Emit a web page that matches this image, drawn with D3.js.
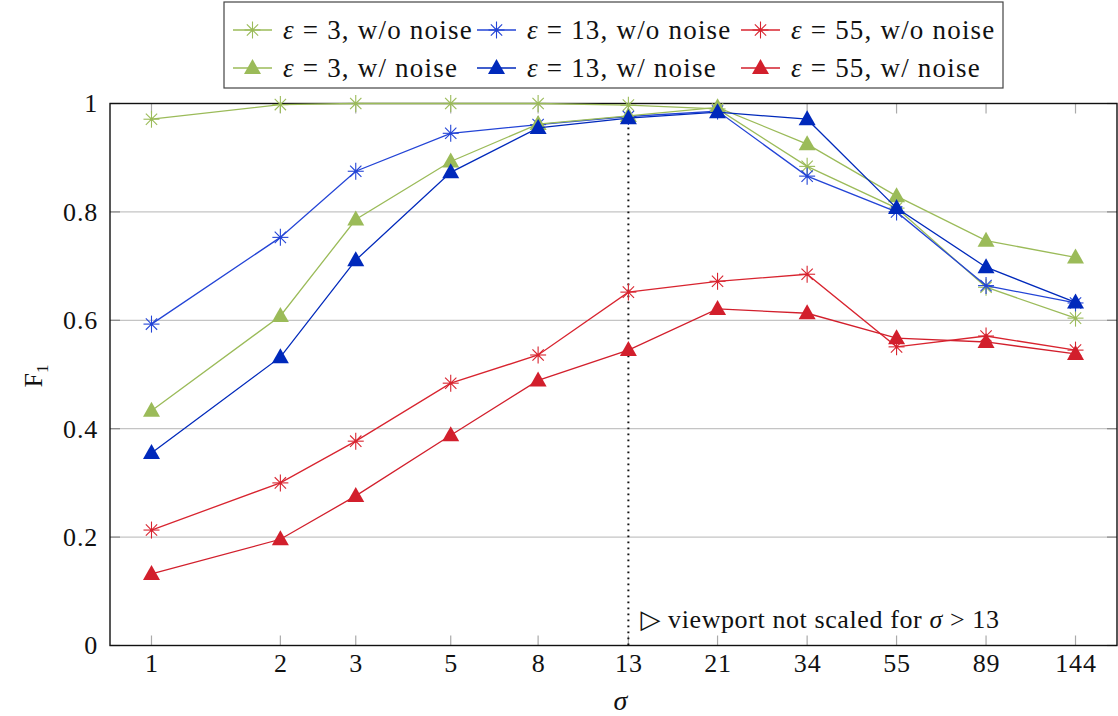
<!DOCTYPE html>
<html>
<head>
<meta charset="utf-8">
<script src="https://cdn.jsdelivr.net/npm/d3@7"></script>
<style>
  body { margin: 0; background: #fff; }
  text { font-family: "Liberation Serif", "DejaVu Serif", serif; fill: #111; }
</style>
</head>
<body>
<script>
//chart data
var sigmas = [1, 2, 3, 5, 8, 13, 21, 34, 55, 89, 144];
var yTicks = [0, 0.2, 0.4, 0.6, 0.8, 1];

var eps3NoNoise  = [0.971, 0.998, 1.0, 1.0, 1.0, 0.997, 0.990, 0.884, 0.807, 0.661, 0.604];
var eps13NoNoise = [0.593, 0.753, 0.875, 0.945, 0.961, 0.976, 0.986, 0.866, 0.800, 0.664, 0.632];
var eps55NoNoise = [0.213, 0.300, 0.377, 0.484, 0.536, 0.652, 0.672, 0.685, 0.551, 0.571, 0.545];
var eps3Noise    = [0.433, 0.608, 0.786, 0.893, 0.962, 0.977, 0.993, 0.925, 0.829, 0.747, 0.716];
var eps13Noise   = [0.355, 0.532, 0.711, 0.873, 0.955, 0.973, 0.984, 0.971, 0.807, 0.698, 0.633];
var eps55Noise   = [0.132, 0.196, 0.276, 0.388, 0.489, 0.545, 0.621, 0.613, 0.567, 0.560, 0.538];

var series = [
  {eps: "3",  label: ", w/o noise", values: eps3NoNoise,  color: "#9bbb59", mark: "asterisk"},
  {eps: "13", label: ", w/o noise", values: eps13NoNoise, color: "#2344d6", mark: "asterisk"},
  {eps: "55", label: ", w/o noise", values: eps55NoNoise, color: "#d8242f", mark: "asterisk"},
  {eps: "3",  label: ", w/ noise",  values: eps3Noise,    color: "#9bbb59", mark: "triangle"},
  {eps: "13", label: ", w/ noise",  values: eps13Noise,   color: "#0029bb", mark: "triangle"},
  {eps: "55", label: ", w/ noise",  values: eps55Noise,   color: "#d21f2c", mark: "triangle"}
];

var width = 1118,
    height = 716;

var svg = d3.select("body")
    .append("svg")
    .attr("width", width)
    .attr("height", height);

//plot frame
var plotLeft = 110, plotRight = 1117, plotTop = 103.5, plotBottom = 645.5;

var x = d3.scaleLog()
    .domain([0.8, 180])
    .range([plotLeft, plotRight]);

var y = d3.scaleLinear()
    .domain([0, 1])
    .range([plotBottom, plotTop]);

//grid lines
svg.selectAll(".grid")
    .data(yTicks.filter(function(d){ return d > 0 && d < 1; }))
    .enter()
    .append("line")
    .attr("x1", plotLeft).attr("x2", plotRight)
    .attr("y1", function(d){ return y(d); })
    .attr("y2", function(d){ return y(d); })
    .style("stroke", "#c4c4c4")
    .style("stroke-width", 1.2);

//x ticks, inside at bottom and top
sigmas.forEach(function(s){
  svg.append("line")
    .attr("x1", x(s)).attr("x2", x(s))
    .attr("y1", plotBottom).attr("y2", plotBottom - 10)
    .style("stroke", "#aaa").style("stroke-width", 1.2);
  svg.append("line")
    .attr("x1", x(s)).attr("x2", x(s))
    .attr("y1", plotTop).attr("y2", plotTop + 10)
    .style("stroke", "#aaa").style("stroke-width", 1.2);
});

//y ticks, inside at left and right
yTicks.forEach(function(t){
  svg.append("line")
    .attr("x1", plotLeft).attr("x2", plotLeft + 10)
    .attr("y1", y(t)).attr("y2", y(t))
    .style("stroke", "#888").style("stroke-width", 1.2);
  svg.append("line")
    .attr("x1", plotRight - 10).attr("x2", plotRight)
    .attr("y1", y(t)).attr("y2", y(t))
    .style("stroke", "#888").style("stroke-width", 1.2);
});

//axis labels via d3 axes, no domain path
var xAxis = svg.append("g")
    .attr("transform", "translate(0," + plotBottom + ")")
    .call(d3.axisBottom(x).tickValues(sigmas).tickFormat(d3.format("d")).tickSize(0).tickPadding(8));
var yAxis = svg.append("g")
    .attr("transform", "translate(" + plotLeft + ",0)")
    .call(d3.axisLeft(y).tickValues(yTicks).tickFormat(function(d){ return d === 0 || d === 1 ? d : d3.format(".1f")(d); }).tickSize(0).tickPadding(12));
[xAxis, yAxis].forEach(function(g){
  g.select(".domain").remove();
  g.selectAll("text")
    .style("font-family", "'Liberation Serif', serif")
    .style("font-size", "26px")
    .style("letter-spacing", "0.8px")
    .style("fill", "#111");
});

//dotted marker line at sigma = 13
svg.append("line")
  .attr("x1", x(13)).attr("x2", x(13))
  .attr("y1", plotTop).attr("y2", plotBottom)
  .style("stroke", "#111")
  .style("stroke-width", 2)
  .style("stroke-dasharray", "1.8,4.2");

svg.append("text")
  .attr("x", x(13) + 12)
  .attr("y", 628)
  .style("font-size", "26px")
  .style("letter-spacing", "0.6px")
  .html("▷ viewport not scaled for <tspan font-style='italic'>σ</tspan> &gt; 13");

//frame
svg.append("rect")
  .attr("x", plotLeft).attr("y", plotTop)
  .attr("width", plotRight - plotLeft).attr("height", plotBottom - plotTop)
  .style("fill", "none")
  .style("stroke", "#111")
  .style("stroke-width", 1.4);

//markers
function drawMark(g, kind, color){
  if (kind === "asterisk"){
    var r = 8;
    for (var i = 0; i < 8; i++){
      var a = i * Math.PI / 4;
      var rr = (i % 4 === 2) ? r + 0.5 : r;
      g.append("line")
        .attr("x1", 0).attr("y1", 0)
        .attr("x2", rr * Math.cos(a)).attr("y2", rr * Math.sin(a))
        .style("stroke", color)
        .style("stroke-width", 1.1);
    }
    g.append("circle").attr("r", 1.6).style("fill", color);
  } else {
    g.append("path")
      .attr("d", "M0,-9 L8.5,6 L-8.5,6 Z")
      .style("fill", color);
  }
}

var line = d3.line()
    .x(function(d){ return x(d[0]); })
    .y(function(d){ return y(d[1]); });

series.forEach(function(s){
  var pts = sigmas.map(function(sg, i){ return [sg, s.values[i]]; });
  svg.append("path")
    .datum(pts)
    .attr("d", line)
    .style("fill", "none")
    .style("stroke", s.color)
    .style("stroke-width", 1.3);
  pts.forEach(function(p){
    var g = svg.append("g").attr("transform", "translate(" + x(p[0]) + "," + y(p[1]) + ")");
    drawMark(g, s.mark, s.color);
  });
});

//axis titles
svg.append("text")
  .attr("x", x(13) - 15)
  .attr("y", 710)
  .style("font-size", "28px")
  .style("font-style", "italic")
  .text("σ");

svg.append("text")
  .attr("transform", "translate(42,376) rotate(-90)")
  .attr("text-anchor", "middle")
  .style("font-size", "26px")
  .html("F<tspan font-size='17px' dy='6'>1</tspan>");

//legend
var legend = svg.append("g");
legend.append("rect")
  .attr("x", 224).attr("y", 2)
  .attr("width", 779).attr("height", 86)
  .style("fill", "#fff")
  .style("stroke", "#444")
  .style("stroke-width", 1.2);

var legendCols = [233, 477, 741];
var legendRows = [30, 68];
series.forEach(function(s, i){
  var cx = legendCols[i % 3], cy = legendRows[Math.floor(i / 3)];
  var g = legend.append("g").attr("transform", "translate(" + cx + "," + cy + ")");
  g.append("line")
    .attr("x1", 0).attr("x2", 39)
    .attr("y1", 0).attr("y2", 0)
    .style("stroke", s.color)
    .style("stroke-width", 1.3);
  drawMark(g.append("g").attr("transform", "translate(19.5,0)"), s.mark, s.color);
  g.append("text")
    .attr("x", 50)
    .attr("y", 9)
    .style("font-size", "27px")
    .style("letter-spacing", "1.2px")
    .html("<tspan font-style='italic'>ε</tspan> = " + s.eps + s.label);
});
</script>
</body>
</html>
